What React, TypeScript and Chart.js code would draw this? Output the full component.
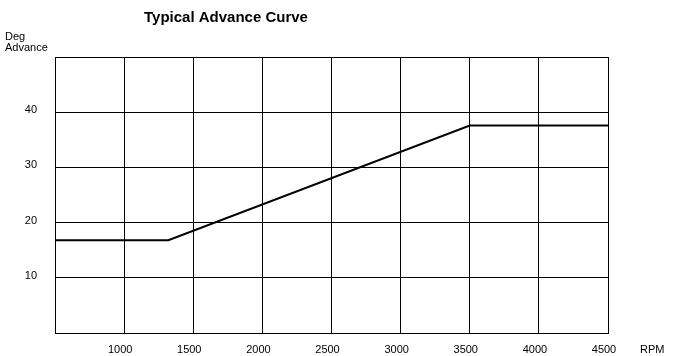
import React, { useEffect, useRef } from "react";
import { Chart, registerables } from "chart.js";

Chart.register(...registerables);

const rpm = [500, 1320, 3500, 4500];
const degAdvance = [16.8, 16.8, 37.6, 37.6];
const xTicks = [500, 1000, 1500, 2000, 2500, 3000, 3500, 4000, 4500];
const yTicks = [0, 10, 20, 30, 40, 50];
const title = "Typical Advance Curve";
const yTitle = ["Deg", "Advance"];
const xTitle = "RPM";

const FONT = "'Liberation Sans', Arial, sans-serif";

const textPlugin = {
  id: "texts",
  afterDraw(chart: any) {
    const ctx = chart.ctx;
    const a = chart.chartArea;
    ctx.save();
    ctx.fillStyle = "#000";
    ctx.textBaseline = "middle";
    ctx.textAlign = "left";
    ctx.font = "bold 15px " + FONT;
    ctx.fillText(title, a.left + 89, 18);
    ctx.font = "11px " + FONT;
    ctx.fillText(yTitle[0], 5, 37);
    ctx.fillText(yTitle[1], 5, 48);
    ctx.fillText(xTitle, a.right + 32, 350);
    ctx.restore();
  },
};

const zeroPad = (s: any) => {
  s.paddingTop = 0;
  s.paddingBottom = 0;
  s.paddingLeft = 0;
  s.paddingRight = 0;
};

export default function App() {
  const ref = useRef<HTMLCanvasElement>(null);
  useEffect(() => {
    document.body.style.margin = "0";
    const chart = new Chart(ref.current!, {
      type: "line",
      data: {
        datasets: [
          {
            data: rpm.map((x, i) => ({ x, y: degAdvance[i] })),
            borderColor: "#000",
            borderWidth: 2,
            pointRadius: 0,
            tension: 0,
            fill: false,
          },
        ],
      },
      options: {
        animation: false,
        responsive: false,
        maintainAspectRatio: false,
        layout: { padding: { left: 0, right: 66, top: 57, bottom: 0 } },
        plugins: {
          legend: { display: false },
          title: { display: false },
          tooltip: { enabled: false },
        },
        scales: {
          x: {
            type: "linear",
            min: 500,
            max: 4500,
            afterBuildTicks: (s: any) => {
              s.ticks = xTicks.map((v) => ({ value: v }));
            },
            afterFit: (s: any) => {
              s.height = 23;
              zeroPad(s);
            },
            grid: { color: "#000", lineWidth: 1, drawTicks: false },
            border: { color: "#000", width: 1 },
            ticks: {
              color: "#000",
              font: { family: FONT, size: 11 },
              padding: 10,
              labelOffset: -4,
              maxRotation: 0,
              autoSkip: false,
              callback: (v: any) => (v === 500 ? "" : String(v)),
            },
          },
          y: {
            type: "linear",
            min: 0,
            max: 50,
            afterBuildTicks: (s: any) => {
              s.ticks = yTicks.map((v) => ({ value: v }));
            },
            afterFit: (s: any) => {
              s.width = 55;
              zeroPad(s);
            },
            grid: { color: "#000", lineWidth: 1, drawTicks: false },
            border: { color: "#000", width: 1 },
            ticks: {
              color: "#000",
              font: { family: FONT, size: 11 },
              padding: 18,
              labelOffset: -2,
              autoSkip: false,
              callback: (v: any) => (v === 0 || v === 50 ? "" : String(v)),
            },
          },
        },
      },
      plugins: [textPlugin],
    });
    return () => chart.destroy();
  }, []);
  return (
    <div style={{ width: 674, height: 356, background: "#fff" }}>
      <canvas ref={ref} width={674} height={356} style={{ display: "block" }} />
    </div>
  );
}
